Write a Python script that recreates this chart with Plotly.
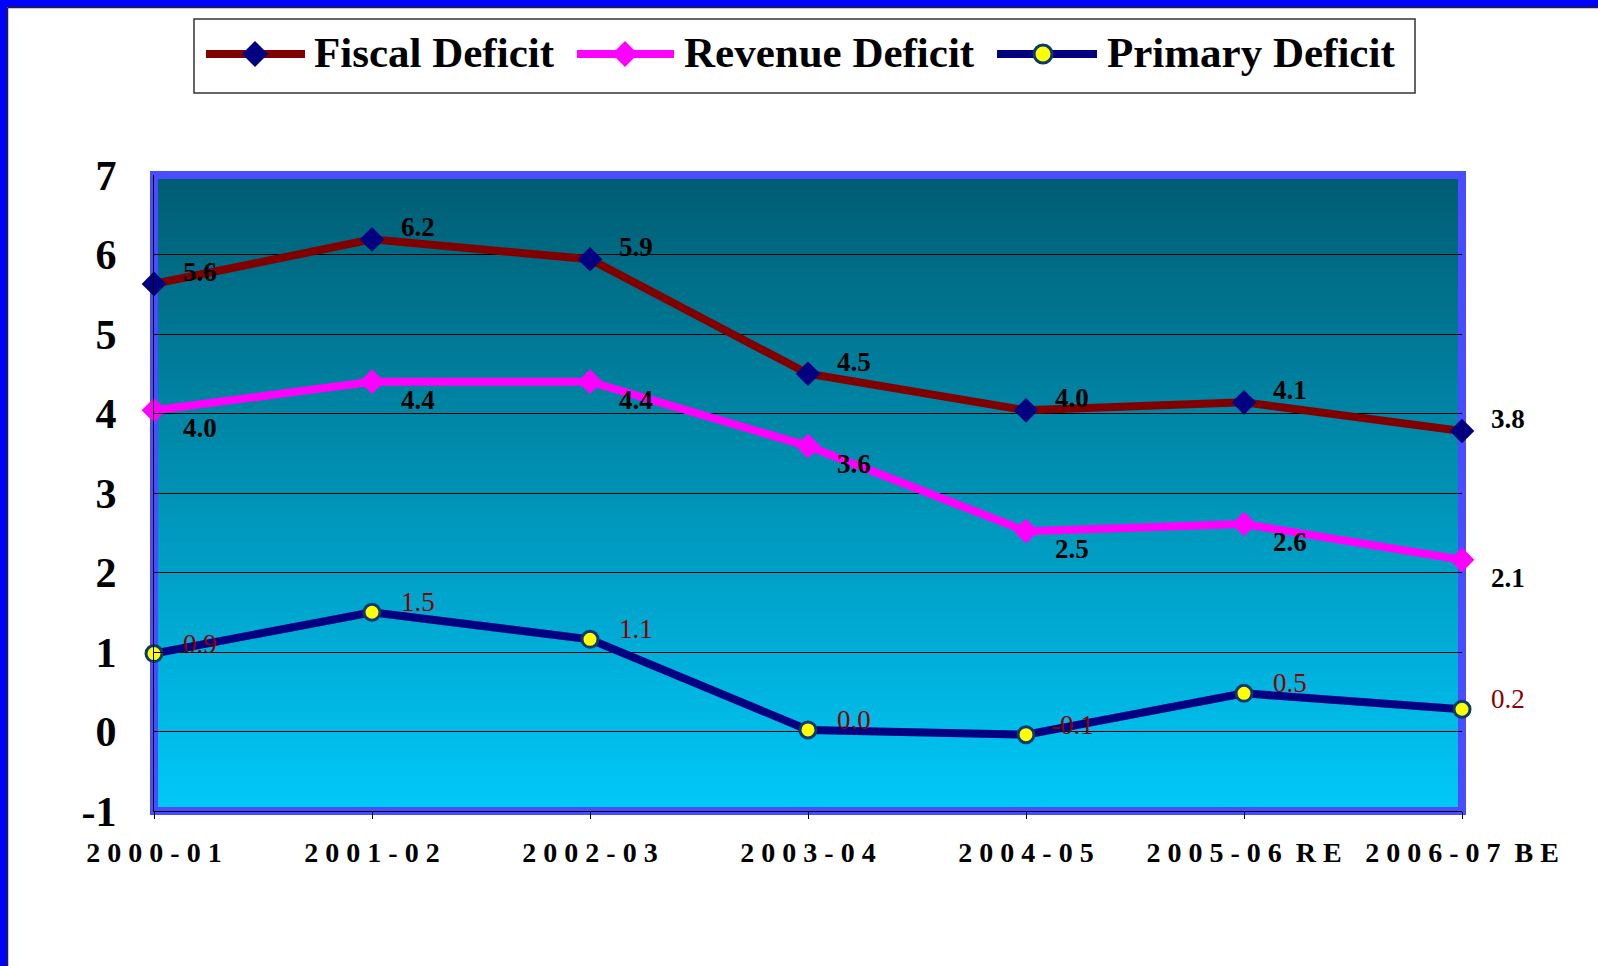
import plotly.graph_objects as go

# ---------------- data ----------------
categories = ["2000-01", "2001-02", "2002-03", "2003-04", "2004-05", "2005-06 RE", "2006-07 BE"]
x_tick_text = ["2 0 0 0 - 0 1", "2 0 0 1 - 0 2", "2 0 0 2 - 0 3", "2 0 0 3 - 0 4",
               "2 0 0 4 - 0 5", "2 0 0 5 - 0 6  R E", "2 0 0 6 - 0 7  B E"]

fiscal = [5.63, 6.19, 5.94, 4.50, 4.04, 4.14, 3.78]
fiscal_labels = ["5.6", "6.2", "5.9", "4.5", "4.0", "4.1", "3.8"]

revenue = [4.04, 4.40, 4.40, 3.59, 2.52, 2.61, 2.16]
revenue_labels = ["4.0", "4.4", "4.4", "3.6", "2.5", "2.6", "2.1"]

primary = [0.98, 1.50, 1.16, 0.02, -0.04, 0.48, 0.28]
primary_labels = ["0.9", "1.5", "1.1", "0.0", "-0.1", "0.5", "0.2"]

y_tick_vals = [-1, 0, 1, 2, 3, 4, 5, 6, 7]
y_tick_text = ["-1", "0", "1", "2", "3", "4", "5", "6", "7"]

series_names = ["Fiscal Deficit", "Revenue Deficit", "Primary Deficit"]

# ---------------- layout geometry ----------------
W, H = 1598, 966
ML, MR, MT, MB = 154, 136, 175, 155
PW = W - ML - MR
PH = H - MT - MB


def px(x):
    return (x - ML) / PW


def py(y):
    return (H - MB - y) / PH


SERIF = "Liberation Serif"
NB = "\u00a0"

fig = go.Figure()

fig.add_trace(go.Scatter(
    x=categories, y=fiscal, name=series_names[0], mode="lines+markers",
    line=dict(color="#800000", width=8),
    marker=dict(symbol="diamond", size=19, color="#000080", line=dict(width=0)),
    cliponaxis=False, showlegend=False))
fig.add_trace(go.Scatter(
    x=categories, y=revenue, name=series_names[1], mode="lines+markers",
    line=dict(color="#FF00FF", width=8),
    marker=dict(symbol="diamond", size=19, color="#FF00FF", line=dict(width=0)),
    cliponaxis=False, showlegend=False))
fig.add_trace(go.Scatter(
    x=categories, y=primary, name=series_names[2], mode="lines+markers",
    line=dict(color="#000080", width=8),
    marker=dict(symbol="circle", size=16, color="#FFFF00", line=dict(width=3, color="#0A3A6E")),
    cliponaxis=False, showlegend=False))

annotations = []
bold_font = dict(family=SERIF, size=27, color="black", weight="bold")
red_font = dict(family=SERIF, size=27, color="#8B0000")
for cat, v, t in zip(categories, fiscal, fiscal_labels):
    annotations.append(dict(x=cat, y=v, text=t, showarrow=False, xshift=46, yshift=12, font=bold_font))
for cat, v, t in zip(categories, revenue, revenue_labels):
    annotations.append(dict(x=cat, y=v, text=t, showarrow=False, xshift=46, yshift=-18, font=bold_font))
for cat, v, t in zip(categories, primary, primary_labels):
    annotations.append(dict(x=cat, y=v, text=t, showarrow=False, xshift=46, yshift=10, font=red_font))

shapes = []
# gradient background of plot area
top_c = (0, 92, 114)
bot_c = (0, 201, 250)
N = 90
for i in range(N):
    f = (i + 0.5) / N
    c = tuple(int(round(bot_c[k] + (top_c[k] - bot_c[k]) * f)) for k in range(3))
    shapes.append(dict(type="rect", xref="paper", yref="paper", x0=0, x1=1,
                       y0=i / N, y1=(i + 1) / N + 0.002, line=dict(width=0),
                       fillcolor="rgb(%d,%d,%d)" % c, layer="below"))
# blue plot-area border
shapes.append(dict(type="rect", xref="paper", yref="paper", x0=0, x1=1, y0=0, y1=1,
                   line=dict(color="#4A4CFF", width=8), fillcolor="rgba(0,0,0,0)", layer="between"))

# page frame (blue left & top bands)
shapes.append(dict(type="rect", xref="paper", yref="paper", x0=px(-5), x1=px(7),
                   y0=py(H + 5), y1=py(-5), line=dict(width=0), fillcolor="#0000FF", layer="above"))
shapes.append(dict(type="rect", xref="paper", yref="paper", x0=px(-5), x1=px(W + 5),
                   y0=py(7), y1=py(-5), line=dict(width=0), fillcolor="#0000FF", layer="above"))
shapes.append(dict(type="line", xref="paper", yref="paper", x0=px(7.5), x1=px(W + 5),
                   y0=py(7.5), y1=py(7.5), line=dict(color="#222222", width=1.5), layer="above"))
shapes.append(dict(type="line", xref="paper", yref="paper", x0=px(7.5), x1=px(7.5),
                   y0=py(7.5), y1=py(H + 5), line=dict(color="#222222", width=1.5), layer="above"))

# legend box
shapes.append(dict(type="rect", xref="paper", yref="paper", x0=px(194), x1=px(1415),
                   y0=py(93), y1=py(19), line=dict(color="#333333", width=1.5),
                   fillcolor="white", layer="above"))
leg_y = 54
legend_items = [
    # (line x0, line x1, marker x, text x, line colour, marker kind, marker colour)
    (206, 305, 255, 312, "#800000", "diamond", "#000080"),
    (577, 674, 625, 682, "#FF00FF", "diamond", "#FF00FF"),
    (997, 1097, 1043, 1105, "#000080", "circle", "#FFFF00"),
]
for (lx0, lx1, mx, tx, lc, mk, mc), name in zip(legend_items, series_names):
    shapes.append(dict(type="line", xref="paper", yref="paper", x0=px(lx0), x1=px(lx1),
                       y0=py(leg_y), y1=py(leg_y), line=dict(color=lc, width=8), layer="above"))
    if mk == "diamond":
        shapes.append(dict(type="path", xref="paper", yref="paper", xsizemode="pixel", ysizemode="pixel",
                           xanchor=px(mx), yanchor=py(leg_y), path="M0,13 L13,0 L0,-13 L-13,0 Z",
                           fillcolor=mc, line=dict(width=0), layer="above"))
    else:
        shapes.append(dict(type="circle", xref="paper", yref="paper", xsizemode="pixel", ysizemode="pixel",
                           xanchor=px(mx), yanchor=py(leg_y), x0=-9, x1=9, y0=-9, y1=9,
                           fillcolor=mc, line=dict(color="#0A3A6E", width=3), layer="above"))
    annotations.append(dict(xref="paper", yref="paper", x=px(tx), y=py(leg_y - 1), text=name,
                            showarrow=False, xanchor="left", yanchor="middle",
                            font=dict(family=SERIF, size=43, color="black", weight="bold")))

fig.update_layout(
    width=W, height=H,
    margin=dict(l=ML, r=MR, t=MT, b=MB, pad=0),
    paper_bgcolor="white", plot_bgcolor="rgba(0,0,0,0)",
    showlegend=False,
    shapes=shapes, annotations=annotations,
    xaxis=dict(type="category", range=[0, 6], showgrid=False, zeroline=False,
               showline=True, linecolor="black", linewidth=1,
               ticks="outside", ticklen=7, tickcolor="black", tickwidth=1,
               tickvals=categories, ticktext=[t.replace(" ", NB) for t in x_tick_text],
               tickfont=dict(family=SERIF, size=28, color="black", weight="bold"),
               ticklabelstandoff=9),
    yaxis=dict(range=[-1, 7], tickvals=y_tick_vals, ticktext=y_tick_text,
               showgrid=True, gridcolor="black", gridwidth=1, zeroline=False,
               showline=True, linecolor="black", linewidth=1,
               ticks="inside", ticklen=10, tickcolor="black",
               tickfont=dict(family=SERIF, size=42, color="black", weight="bold"),
               ticklabelstandoff=28),
)

fig.write_html("out.html", config={"displayModeBar": False},
               post_script="document.body.style.margin='0';")
